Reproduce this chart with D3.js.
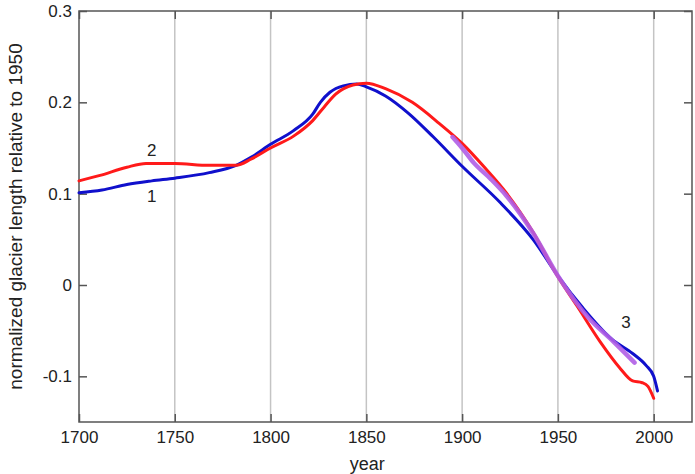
<!DOCTYPE html>
<meta charset="utf-8">
<style>
body { margin: 0; background: #fff; }
svg { display: block; font-family: "Liberation Sans", Arial, Helvetica, sans-serif; }
.grid line { stroke: #c4c4c4; stroke-width: 1.5px; }
.frame { fill: none; stroke: #555; stroke-width: 1.5px; }
.axis path { display: none; }
.axis line { stroke: #555; stroke-width: 1.5px; }
.axis text { fill: #222; font-size: 17px; }
.line { fill: none; stroke-width: 3px; stroke-linejoin: round; stroke-linecap: round; }
</style>
<svg width="695" height="474"></svg>
<script src="https://cdn.jsdelivr.net/npm/d3@7"></script>
<script>

// curve 1 (blue)
var years1 = [1700, 1712, 1725, 1738, 1750, 1768, 1782, 1790, 1800, 1812, 1822, 1826, 1831, 1838, 1845, 1850, 1860, 1872, 1885, 1900, 1920, 1937, 1950, 1963, 1978, 1989, 1996, 2000, 2002];
var vals1 = [0.101, 0.104, 0.110, 0.114, 0.117, 0.123, 0.131, 0.140, 0.154, 0.169, 0.187, 0.200, 0.211, 0.218, 0.220, 0.217, 0.207, 0.188, 0.162, 0.130, 0.090, 0.050, 0.010, -0.025, -0.059, -0.075, -0.088, -0.100, -0.116];

// curve 2 (red)
var years2 = [1700, 1711, 1725, 1735, 1750, 1768, 1782, 1790, 1800, 1812, 1822, 1828, 1834, 1843, 1850, 1860, 1874, 1888, 1900, 1912, 1923, 1937, 1950, 1960, 1972, 1982, 1989, 1994, 1997, 2000];
var vals2 = [0.114, 0.120, 0.129, 0.133, 0.133, 0.131, 0.131, 0.138, 0.150, 0.163, 0.180, 0.195, 0.209, 0.219, 0.221, 0.215, 0.200, 0.177, 0.155, 0.128, 0.101, 0.058, 0.009, -0.023, -0.062, -0.090, -0.105, -0.107, -0.111, -0.124];

// curve 3 (purple)
var years3 = [1895, 1900, 1906, 1915, 1923, 1937, 1950, 1966, 1979, 1990];
var vals3 = [0.162, 0.150, 0.134, 0.116, 0.098, 0.057, 0.010, -0.036, -0.062, -0.085];

var xTicks = [1700, 1750, 1800, 1850, 1900, 1950, 2000];
var yTicks = [-0.1, 0, 0.1, 0.2, 0.3];

var svg = d3.select("svg"),
    margin = {top: 11, right: 3, bottom: 52, left: 79},
    width = +svg.attr("width") - margin.left - margin.right,
    height = +svg.attr("height") - margin.top - margin.bottom,
    g = svg.append("g").attr("transform", "translate(" + margin.left + "," + margin.top + ")");

var x = d3.scaleLinear().domain([1700, 2020]).range([0, width]),
    y = d3.scaleLinear().domain([-0.15, 0.3]).range([height, 0]);

// vertical grid
g.append("g")
    .attr("class", "grid")
  .selectAll("line")
  .data(xTicks.slice(1))
  .enter().append("line")
    .attr("x1", function(d) { return x(d); })
    .attr("x2", function(d) { return x(d); })
    .attr("y1", 0)
    .attr("y2", height);

g.append("g")
    .attr("class", "axis")
    .attr("transform", "translate(0," + height + ")")
    .call(d3.axisBottom(x).tickValues(xTicks).tickFormat(d3.format("d")).tickSizeInner(-8).tickPadding(9));

g.append("g")
    .attr("class", "axis")
    .call(d3.axisTop(x).tickValues(xTicks).tickFormat("").tickSizeInner(-8));

g.append("g")
    .attr("class", "axis")
    .call(d3.axisLeft(y).tickValues(yTicks)
      .tickFormat(function(d) { return d === 0 ? "0" : d3.format(".1f")(d).replace("\u2212", "-"); })
      .tickSizeInner(-8).tickPadding(7));

g.append("g")
    .attr("class", "axis")
    .attr("transform", "translate(" + width + ",0)")
    .call(d3.axisRight(y).tickValues(yTicks).tickFormat("").tickSizeInner(-8));

g.append("rect")
    .attr("class", "frame")
    .attr("width", width)
    .attr("height", height);

var line = d3.line()
    .curve(d3.curveMonotoneX)
    .x(function(d) { return x(d[0]); })
    .y(function(d) { return y(d[1]); });

var series = [
  {years: years1, vals: vals1, color: "#1010cc", width: 3, opacity: 1},
  {years: years2, vals: vals2, color: "#ff1a1a", width: 3, opacity: 1},
  {years: years3, vals: vals3, color: "#b05ee6", width: 4.5, opacity: 0.9}
];

g.selectAll(".line")
  .data(series)
  .enter().append("path")
    .attr("class", "line")
    .attr("d", function(s) { return line(d3.zip(s.years, s.vals)); })
    .style("stroke", function(s) { return s.color; })
    .style("stroke-width", function(s) { return s.width + "px"; })
    .style("stroke-opacity", function(s) { return s.opacity; });

// curve labels
var labels = [
  {t: "2", yr: 1738, v: 0.148},
  {t: "1", yr: 1738, v: 0.097},
  {t: "3", yr: 1985.5, v: -0.041}
];
g.selectAll(".lab")
  .data(labels)
  .enter().append("text")
    .attr("x", function(d) { return x(d.yr); })
    .attr("y", function(d) { return y(d.v); })
    .attr("dy", "0.35em")
    .attr("text-anchor", "middle")
    .style("font-size", "17px")
    .style("fill", "#222")
    .text(function(d) { return d.t; });

svg.append("text")
    .attr("x", margin.left + x(1850) + 1)
    .attr("y", 470)
    .attr("text-anchor", "middle")
    .style("font-size", "18px")
    .style("fill", "#222")
    .text("year");

svg.append("text")
    .attr("transform", "translate(22," + (margin.top + height / 2) + ") rotate(-90)")
    .attr("text-anchor", "middle")
    .style("font-size", "19px")
    .style("fill", "#222")
    .text("normalized glacier length relative to 1950");
</script>
